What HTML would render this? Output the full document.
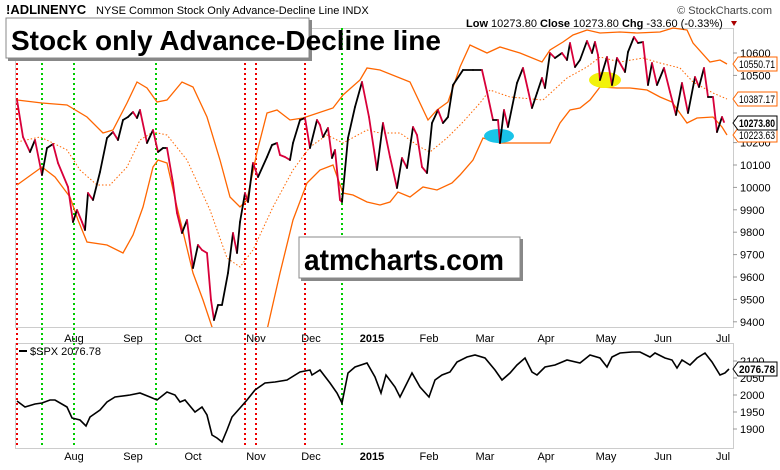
<!DOCTYPE html>
<html><head><meta charset="utf-8"><style>
body{margin:0;background:#fff;width:780px;height:465px;overflow:hidden;font-family:"Liberation Sans",Arial,sans-serif}
svg text{font-family:"Liberation Sans",Arial,sans-serif}
</style></head><body>
<svg id="s" width="780" height="465" viewBox="0 0 780 465" xmlns="http://www.w3.org/2000/svg">
<rect width="780" height="465" fill="#fff"/>
<g id="g"></g>
</svg>
<script>
const g=document.getElementById('g');let h='';
function pl(p,st,w,extra){return `<polyline fill="none" stroke="${st}" stroke-width="${w}" ${extra||''} points="${p.map(a=>a.join(',')).join(' ')}"/>`;}
h+=`<rect x="15.5" y="28.5" width="718" height="299" fill="none" stroke="#ccc"/>`;
h+=`<rect x="15.5" y="343.5" width="718" height="105" fill="none" stroke="#ccc"/>`;
for(let v=9400;v<=10600;v+=100){let y=53+(10600-v)*0.224;h+=`<line x1="733" y1="${y}" x2="737" y2="${y}" stroke="#999"/><text x="740" y="${y+4}" font-size="11" fill="#000">${v}</text>`;}
for(let v=1900;v<=2100;v+=50){let y=361+(2100-v)*0.34;h+=`<line x1="733" y1="${y}" x2="737" y2="${y}" stroke="#999"/><text x="740" y="${y+4}" font-size="11">${v}</text>`;}
[17,245,256,305].forEach(x=>h+=`<line x1="${x}" y1="28" x2="${x}" y2="448" stroke="#e00" stroke-width="2" stroke-dasharray="2,3"/>`);
[42,74,156,342].forEach(x=>h+=`<line x1="${x}" y1="28" x2="${x}" y2="448" stroke="#0c0" stroke-width="2" stroke-dasharray="2,3"/>`);
const m=[["Aug",74],["Sep",133],["Oct",193],["Nov",256],["Dec",311],["2015",372],["Feb",429],["Mar",485],["Apr",546],["May",606],["Jun",663],["Jul",723]];
m.forEach(([t,x])=>{let b=t=="2015"?'font-weight="bold"':'';h+=`<text x="${x}" y="342" font-size="11" text-anchor="middle" ${b}>${t}</text><text x="${x}" y="460" font-size="11" text-anchor="middle" ${b}>${t}</text>`;});
const up=[[17,100],[42,103],[67,105],[87,117],[103,133],[113,130],[127,103],[137,82],[147,88],[157,102],[167,100],[182,82],[193,87],[207,117],[220,160],[230,197],[240,207],[247,200],[257,152],[267,113],[277,110],[290,120],[303,118],[333,108],[343,95],[360,80],[367,68],[380,70],[410,82],[428,120],[437,110],[448,102],[460,67],[470,45],[487,53],[500,47],[520,53],[542,62],[550,50],[563,42],[573,35],[587,30],[600,33],[620,32],[637,33],[660,32],[673,28],[687,30],[693,43],[710,62],[720,60],[727,64]];
const lo=[[17,185],[42,167],[55,177],[70,197],[78,220],[87,242],[107,245],[123,253],[133,235],[143,207],[153,167],[158,160],[167,163],[177,207],[193,273],[203,300],[213,330],[267,330],[280,273],[293,220],[307,183],[320,170],[333,165],[343,193],[353,195],[367,202],[380,205],[390,202],[398,192],[410,197],[423,187],[437,190],[452,183],[460,175],[473,160],[483,138],[500,143],[550,143],[560,123],[570,110],[580,108],[590,100],[600,87],[617,88],[630,88],[647,90],[660,97],[672,102],[687,123],[697,118],[713,117],[722,127],[727,135]];
const mid=[[17,142],[40,137],[53,143],[67,150],[80,170],[97,185],[110,185],[127,167],[140,140],[153,132],[167,135],[187,160],[210,210],[227,258],[240,267],[253,250],[273,207],[293,170],[310,147],[327,135],[343,143],[367,130],[380,133],[400,133],[420,147],[430,152],[447,138],[463,122],[480,103],[490,90],[510,97],[543,100],[567,78],[587,67],[600,57],[620,62],[643,58],[660,63],[680,68],[693,82],[713,93],[727,99]];
h+=`<svg x="0" y="0" width="733" height="327" overflow="hidden">`+pl(up,'#f60',1.3)+pl(lo,'#f60',1.3)+pl(mid,'#f60',1,'stroke-dasharray="1.5,2"')+`</svg>`;
h+=`<ellipse cx="499" cy="136" rx="15" ry="7" fill="#19c3e8"/><ellipse cx="605" cy="80" rx="16" ry="8" fill="#f2f20a"/>`;
const ad=[[17,100],[23,137],[30,152],[35,140],[42,175],[47,148],[53,144],[58,163],[68,187],[73,222],[77,210],[82,222],[85,230],[88,193],[93,200],[100,172],[107,138],[113,132],[118,140],[123,120],[128,117],[133,112],[137,118],[140,110],[147,143],[153,130],[158,152],[163,148],[167,148],[173,183],[177,213],[182,233],[187,220],[193,268],[198,245],[202,250],[207,253],[211,300],[214,320],[218,305],[222,305],[228,273],[233,233],[237,253],[240,222],[245,193],[248,202],[253,163],[258,177],[267,157],[272,145],[277,143],[280,155],[285,157],[290,160],[293,143],[300,120],[305,118],[310,148],[317,120],[320,125],[323,137],[328,128],[332,158],[335,150],[340,200],[342,202],[345,170],[348,138],[355,107],[362,82],[369,117],[377,170],[383,123],[390,157],[397,188],[402,158],[407,168],[413,127],[417,135],[422,167],[427,173],[432,123],[438,110],[443,123],[448,117],[453,85],[463,70],[473,70],[482,70],[487,92],[493,120],[498,120],[500,143],[504,110],[508,127],[517,83],[523,68],[528,90],[532,108],[537,93],[542,78],[545,88],[550,53],[555,58],[562,53],[567,60],[570,43],[575,67],[580,60],[587,41],[592,53],[595,42],[598,55],[600,80],[607,57],[612,85],[617,58],[625,72],[628,52],[634,37],[638,43],[643,42],[648,85],[652,63],[657,85],[664,68],[670,92],[676,115],[682,83],[688,113],[695,77],[699,87],[704,68],[708,97],[713,97],[717,132],[722,117],[724,122]];
for(let i=1;i<ad.length;i++){let a=ad[i-1],b=ad[i];h+=`<line x1="${a[0]}" y1="${a[1]}" x2="${b[0]}" y2="${b[1]}" stroke="${b[1]>a[1]?'#d8003a':'#000'}" stroke-width="1.8" stroke-linecap="round"/>`;}
const sp=[[17,401],[25,407],[35,404],[42,403],[50,400],[55,400],[67,407],[72,418],[80,420],[86,426],[90,417],[100,410],[107,402],[115,397],[130,395],[140,393],[150,397],[157,400],[167,392],[175,395],[180,402],[185,400],[195,412],[202,407],[207,415],[212,435],[217,438],[222,442],[227,430],[232,417],[240,408],[247,400],[255,390],[265,383],[275,382],[287,380],[300,372],[310,370],[312,375],[320,370],[330,383],[337,393],[342,403],[348,373],[355,367],[367,363],[375,377],[381,393],[386,375],[395,387],[400,397],[405,387],[412,373],[420,387],[429,397],[435,380],[442,375],[450,372],[457,362],[467,357],[475,355],[485,358],[495,370],[502,380],[510,373],[517,365],[525,358],[532,372],[537,375],[545,367],[555,365],[567,360],[580,363],[590,355],[600,358],[607,367],[612,357],[620,353],[632,352],[640,352],[650,357],[655,353],[665,358],[672,360],[677,368],[682,360],[690,365],[697,358],[705,353],[712,362],[720,375],[725,373],[729,369]];
h+=pl(sp,'#000',1.6);
function tag(y,t,c,b){h+=`<polygon points="733,${y} 738,${y-7} 777,${y-7} 777,${y+7} 738,${y+7}" fill="#fff" stroke="${c}"/><text x="739" y="${y+4}" font-size="11" textLength="36" lengthAdjust="spacingAndGlyphs" ${b?'font-weight="bold"':''}>${t}</text>`;}
tag(64,'10550.71','#f60');tag(99,'10387.17','#f60');tag(135,'10223.63','#f60');tag(123,'10273.80','#000',1);tag(369,'2076.78','#000',1);
h+=`<line x1="19" y1="351" x2="27" y2="351" stroke="#000" stroke-width="2"/><text x="30" y="355" font-size="11">$SPX 2076.78</text>`;
h+=`<text x="6" y="14" font-size="13" font-weight="bold">!ADLINENYC</text><text x="96" y="14" font-size="11">NYSE Common Stock Only Advance-Decline Line  INDX</text>`;
h+=`<text x="772" y="14" font-size="11" text-anchor="end" fill="#444">© StockCharts.com</text>`;
h+=`<text x="466" y="27" font-size="11"><tspan font-weight="bold">Low</tspan> 10273.80  <tspan font-weight="bold">Close</tspan> 10273.80  <tspan font-weight="bold">Chg</tspan> -33.60 (-0.33%)</text><polygon points="731,21 737,21 734,26" fill="#a00"/>`;
h+=`<rect x="8" y="20" width="304" height="41" fill="#888"/><rect x="6" y="18" width="303" height="40" fill="#fff" stroke="#888"/><text x="11" y="50" font-size="28" font-weight="bold">Stock only Advance-Decline line</text>`;
h+=`<rect x="301" y="239" width="222" height="42" fill="#888"/><rect x="299" y="237" width="221" height="41" fill="#fff" stroke="#888"/><text x="304" y="270" font-size="30" font-weight="bold" textLength="200" lengthAdjust="spacingAndGlyphs">atmcharts.com</text>`;
g.innerHTML=h;
</script>
</body></html>
